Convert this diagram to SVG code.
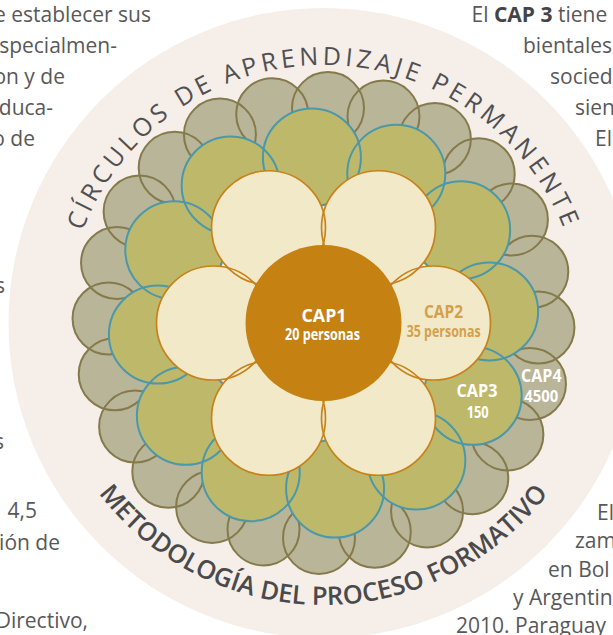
<svg xmlns="http://www.w3.org/2000/svg" xmlns:xlink="http://www.w3.org/1999/xlink" width="613" height="635" viewBox="0 0 613 635">
<style>
.body{font-family:"Open Sans","Liberation Sans",sans-serif;font-size:21px;fill:#58585a}
.body .b{font-weight:700;fill:#444446}
.arcT{font-family:"Open Sans","Liberation Sans",sans-serif;font-size:25px;font-weight:400;fill:#505052;letter-spacing:4px}
.arcB{font-family:"Open Sans","Liberation Sans",sans-serif;font-size:25.5px;font-weight:600;fill:#4a4a4c}
.lab{font-family:"Open Sans","Liberation Sans",sans-serif;font-weight:700;text-anchor:middle}
.gf{fill:#b9b598;stroke:none}
.gs{fill:none;stroke:#857a4b;stroke-width:2}
.tf{fill:#beb96a;stroke:none}
.ts{fill:none;stroke:#4a98aa;stroke-width:2}
.cf{fill:#f2e9c8;stroke:none}
.cs{fill:none;stroke:#c88219;stroke-width:1.7}
</style>
<defs>
<path id="pTop" d="M65.5 323 A258 258 0 0 1 581.5 323"/>
<path id="pBot" d="M41.5 323 A282 282 0 0 0 605.5 323"/>
<g id="outerRing">
<circle cx="538.45" cy="327.5" r="36"/><circle cx="529.96" cy="383.98" r="36"/><circle cx="507.4" cy="434.38" r="36"/><circle cx="472.31" cy="478.18" r="36"/>
<circle cx="427.08" cy="511.41" r="36"/><circle cx="374.78" cy="531.79" r="36"/><circle cx="319" cy="537.95" r="36"/><circle cx="263.52" cy="529.46" r="36"/>
<circle cx="212.12" cy="506.9" r="36"/><circle cx="168.32" cy="471.81" r="36"/><circle cx="135.09" cy="426.58" r="36"/><circle cx="114.71" cy="374.28" r="36"/>
<circle cx="108.55" cy="318.5" r="36"/><circle cx="117.04" cy="263.02" r="36"/><circle cx="139.6" cy="211.62" r="36"/><circle cx="174.69" cy="167.82" r="36"/>
<circle cx="219.92" cy="134.59" r="36"/><circle cx="272.22" cy="114.21" r="36"/><circle cx="328" cy="108.05" r="36"/><circle cx="383.48" cy="116.54" r="36"/>
<circle cx="434.88" cy="139.1" r="36"/><circle cx="478.68" cy="174.19" r="36"/><circle cx="511.91" cy="219.42" r="36"/><circle cx="532.29" cy="271.72" r="36"/>
</g>
<g id="midRing">
<circle cx="489.1" cy="311.42" r="49"/><circle cx="472.7" cy="395.77" r="49"/><circle cx="416.33" cy="460.62" r="49"/><circle cx="335.08" cy="488.59" r="49"/>
<circle cx="250.73" cy="472.2" r="49"/><circle cx="185.88" cy="415.83" r="49"/><circle cx="157.9" cy="334.58" r="49"/><circle cx="174.3" cy="250.23" r="49"/>
<circle cx="230.67" cy="185.38" r="49"/><circle cx="311.92" cy="157.41" r="49"/><circle cx="396.27" cy="173.8" r="49"/><circle cx="461.12" cy="230.17" r="49"/>
</g>
<g id="petals">
<circle cx="433.5" cy="323" r="57"/><circle cx="378.5" cy="418.26" r="57"/><circle cx="268.5" cy="418.26" r="57"/>
<circle cx="213.5" cy="323" r="57"/><circle cx="268.5" cy="227.74" r="57"/><circle cx="378.5" cy="227.74" r="57"/>
</g>
</defs>
<rect width="613" height="635" fill="#ffffff"/>
<g id="body-text-left" class="body" text-anchor="end">
<text x="151" y="22">e establecer sus</text>
<text x="117" y="53">specialmen-</text>
<text x="65" y="84">on y de</text>
<text x="53" y="115">duca-</text>
<text x="35" y="146">o de</text>
<text x="5" y="293">s</text>
<text x="4" y="449">s</text>
<text x="37" y="518">4,5</text>
<text x="60" y="550">ión de</text>
<text x="88" y="628">Directivo,</text>
</g>
<g id="body-text-right" class="body">
<text x="471.5" y="22">El <tspan class="b">CAP 3</tspan> tiene</text>
<text x="523" y="53">bientales</text>
<text x="550" y="84">socied</text>
<text x="575" y="115">sien</text>
<text x="595" y="146">El</text>
<text x="597" y="520">El</text>
<text x="575" y="548">zam</text>
<text x="548" y="577">en Bol</text>
<text x="513" y="605">y Argentin</text>
<text x="456" y="633">2010. Paraguay</text>
</g>
<circle id="backdrop" cx="323.5" cy="323" r="315" fill="#f6eee8"/>
<g id="cap4-ring">
<use xlink:href="#outerRing" class="gf"/>
<use xlink:href="#outerRing" class="gs"/>
</g>
<g id="cap3-ring">
<use xlink:href="#midRing" class="tf"/>
<use xlink:href="#midRing" class="ts"/>
</g>
<g id="cap2-ring">
<use xlink:href="#petals" class="cf"/>
<use xlink:href="#petals" class="cs"/>
</g>
<g id="cap1">
<circle cx="323.5" cy="323" r="78" fill="#c58111"/>
<text class="lab" x="324" y="321.5" font-size="17.5" fill="#ffffff" textLength="45" lengthAdjust="spacingAndGlyphs">CAP1</text>
<text class="lab" x="322.5" y="339.5" font-size="16.5" fill="#ffffff" textLength="75" lengthAdjust="spacingAndGlyphs">20 personas</text>
</g>
<g id="cap2">
<text class="lab" x="443.5" y="318" font-size="17.5" fill="#d4a04a" textLength="39" lengthAdjust="spacingAndGlyphs">CAP2</text>
<text class="lab" x="443.7" y="336.5" font-size="16.5" fill="#d4a04a" textLength="74" lengthAdjust="spacingAndGlyphs">35 personas</text>
</g>
<g id="cap3">
<text class="lab" x="477" y="396.5" font-size="17.5" fill="#ffffff" textLength="41" lengthAdjust="spacingAndGlyphs">CAP3</text>
<text class="lab" x="477.7" y="417.5" font-size="16.5" fill="#ffffff" textLength="22" lengthAdjust="spacingAndGlyphs">150</text>
</g>
<g id="cap4">
<text class="lab" x="541.3" y="382.3" font-size="17.5" fill="#ffffff" textLength="40.7" lengthAdjust="spacingAndGlyphs">CAP4</text>
<text class="lab" x="541.3" y="401.7" font-size="16" fill="#ffffff" textLength="34" lengthAdjust="spacingAndGlyphs">4500</text>
</g>
<g id="titles">
<text class="arcT"><textPath xlink:href="#pTop" startOffset="50%" text-anchor="middle">CÍRCULOS DE APRENDIZAJE PERMANENTE</textPath></text>
<text class="arcB"><textPath xlink:href="#pBot" startOffset="50%" text-anchor="middle">METODOLOGÍA DEL PROCESO FORMATIVO</textPath></text>
</g>
</svg>
